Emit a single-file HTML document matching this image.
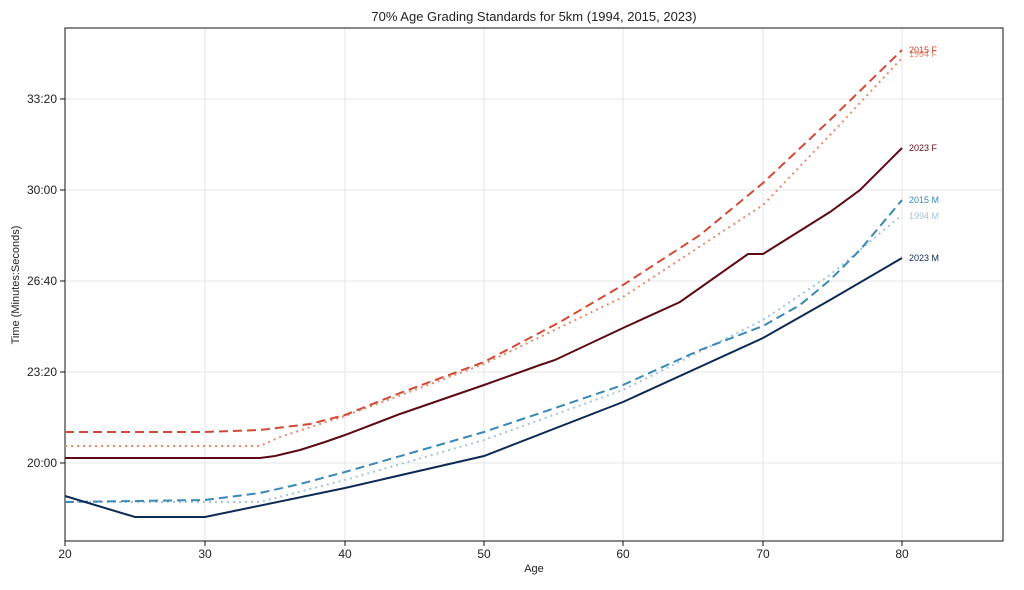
<!DOCTYPE html>
<html><head><meta charset="utf-8"><style>
body{margin:0;background:#fff}
text{font-family:"Liberation Sans",sans-serif;fill:#222}
</style></head><body>
<svg width="1024" height="585" xmlns="http://www.w3.org/2000/svg">
<rect width="1024" height="585" fill="#fff"/>
<text x="534" y="21" font-size="13" text-anchor="middle">70% Age Grading Standards for 5km (1994, 2015, 2023)</text>
<g stroke="#e6e6e6" stroke-width="1">
<line x1="205" y1="28" x2="205" y2="541"/><line x1="345" y1="28" x2="345" y2="541"/>
<line x1="484" y1="28" x2="484" y2="541"/><line x1="623" y1="28" x2="623" y2="541"/>
<line x1="763" y1="28" x2="763" y2="541"/><line x1="902" y1="28" x2="902" y2="541"/>
<line x1="65" y1="99" x2="1003" y2="99"/><line x1="65" y1="190" x2="1003" y2="190"/>
<line x1="65" y1="281" x2="1003" y2="281"/><line x1="65" y1="372" x2="1003" y2="372"/>
<line x1="65" y1="463" x2="1003" y2="463"/>
</g>
<rect x="65" y="28" width="938" height="513" fill="none" stroke="#111" stroke-width="1"/>
<g stroke="#111"><line x1="60" y1="99" x2="65" y2="99"/><line x1="60" y1="190" x2="65" y2="190"/><line x1="60" y1="281" x2="65" y2="281"/><line x1="60" y1="372" x2="65" y2="372"/><line x1="60" y1="463" x2="65" y2="463"/>
<line x1="65" y1="541" x2="65" y2="546"/><line x1="205" y1="541" x2="205" y2="546"/><line x1="345" y1="541" x2="345" y2="546"/><line x1="484" y1="541" x2="484" y2="546"/><line x1="623" y1="541" x2="623" y2="546"/><line x1="763" y1="541" x2="763" y2="546"/><line x1="902" y1="541" x2="902" y2="546"/></g>
<g font-size="12" text-anchor="end"><text x="57" y="103">33:20</text><text x="57" y="194">30:00</text><text x="57" y="285">26:40</text><text x="57" y="376">23:20</text><text x="57" y="467">20:00</text></g>
<g font-size="12" text-anchor="middle"><text x="65" y="558">20</text><text x="205" y="558">30</text><text x="345" y="558">40</text><text x="484" y="558">50</text><text x="623" y="558">60</text><text x="763" y="558">70</text><text x="902" y="558">80</text></g>
<text x="534" y="572" font-size="11" text-anchor="middle">Age</text>
<text transform="translate(19,285) rotate(-90)" font-size="11" text-anchor="middle">Time (Minutes:Seconds)</text>
<g fill="none" stroke-width="2">
<polyline stroke="#e8896a" stroke-dasharray="2,4" points="65,446 260,446 280,437 345,416 484,364 623,297 763,205 830,135 902,58"/>
<polyline stroke="#d04a35" stroke-dasharray="9,5" points="65,432 205,432 260,430 310,424 345,415 400,393 484,362 560,322 623,285 700,235 763,183 830,120 902,50"/>
<polyline stroke="#5c0a14" points="65,458 260,458 275,456 300,450 325,442 345,435 400,414 484,385 540,365 555,360 623,328 680,302 748,254 763,254 830,212 860,190 902,148"/>
<polyline stroke="#a0c4dc" stroke-dasharray="2,4" points="65,502 260,502 345,480 484,440 623,390 763,320 830,275 860,250 902,215"/>
<polyline stroke="#3a88b5" stroke-dasharray="9,5" points="65,502 205,500 260,493 300,484 345,472 484,432 623,385 700,350 763,326 800,305 830,280 860,250 902,200"/>
<polyline stroke="#0d2a55" points="65,496 135,517 205,517 345,488 484,456 623,402 763,338 830,300 902,258"/>
</g>
<g font-size="9">
<text x="909" y="57" style="fill:#e8896a">1994 F</text>
<text x="909" y="53" style="fill:#d04a35">2015 F</text>
<text x="909" y="151" style="fill:#5c0a14">2023 F</text>
<text x="909" y="203" style="fill:#3a88b5">2015 M</text>
<text x="909" y="219" style="fill:#a0c4dc">1994 M</text>
<text x="909" y="261" style="fill:#0d2a55">2023 M</text>
</g>
</svg>
</body></html>
